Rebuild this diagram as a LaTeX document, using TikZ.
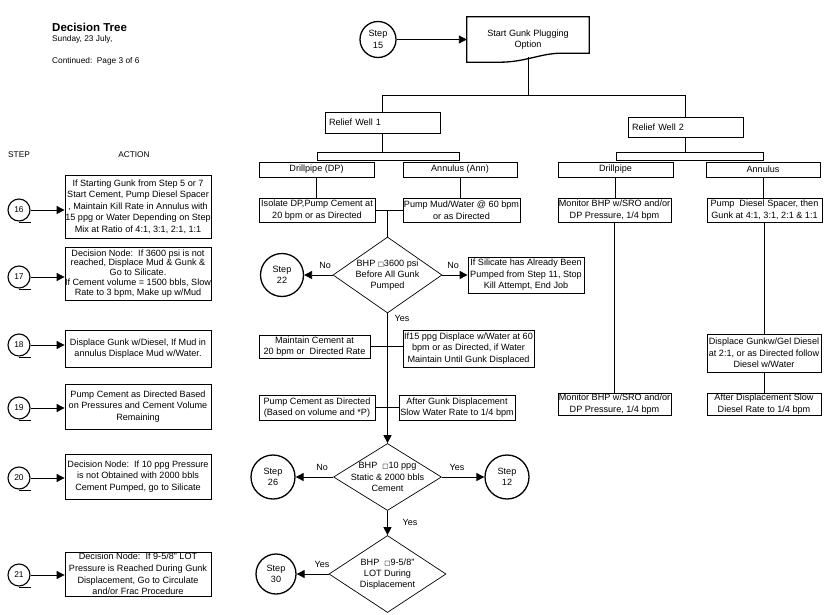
\documentclass[tikz,border=0pt]{standalone}
\usepackage{fontspec}
\setmainfont{Liberation Sans}
\newfontfamily\symfont{DejaVu Sans}
\usetikzlibrary{shapes.geometric,arrows.meta}
\newcommand\qbox{{\symfont\fontsize{6.5}{6.5}\selectfont □}}
\begin{document}
\begin{tikzpicture}[x=1pt,y=-1pt,
  every node/.style={font=\fontsize{9.1}{11.6}\selectfont},
  box/.style={draw, line width=0.8pt, rectangle, inner sep=0pt},
  btext/.style={align=center, inner sep=0pt, font=\fontsize{9.1}{11.6}\selectfont},
  bx/.style={box, label={[btext]center:{#1}}},
  lbox/.style={draw, line width=0.8pt, rectangle, inner xsep=4pt, inner ysep=1pt, align=left},
  bar/.style={draw, line width=0.8pt, rectangle, inner sep=0pt},
  stepc/.style={draw, circle, line width=1.3pt, inner sep=0pt, align=center},
  numc/.style={draw, circle, line width=1.1pt, inner sep=0pt, minimum size=22pt, font=\fontsize{8.4}{9}\selectfont},
  dia/.style={draw, diamond, line width=0.7pt, inner sep=0pt},
  dtext/.style={align=center, font=\fontsize{9.1}{11.2}\selectfont},
  conn/.style={line width=0.9pt},
  arr/.style={conn, -{Triangle[length=8pt,width=8pt]}},
  lab/.style={font=\fontsize{9}{10}\selectfont},
  small/.style={font=\fontsize{8.3}{10}\selectfont}
]
\useasboundingbox (0,0) rectangle (824,615);

% header
\node[anchor=west, font=\bfseries\fontsize{11.5}{13}\selectfont, inner sep=0pt] (title) at (52,27) {Decision Tree};
\node[anchor=west, small, inner sep=0pt] (date) at (52,39.5) {Sunday, 23 July,};
\node[anchor=west, small, inner sep=0pt] (cont) at (52,61.5) {Continued:\ \ Page 3 of 6};

% start
\node[stepc, minimum size=36pt] (s15) at (378,39.5) {Step\\15};
\node[inner sep=0pt, minimum width=122pt, minimum height=45pt, align=center] (start) at (528,39.5) {Start Gunk Plugging\\Option};
\draw[line width=1.3pt] (start.north west) -- (start.north east) -- ([yshift=9pt]start.south east)
  -- ++(-28pt,0) .. controls +(-20pt,0) and +(25pt,0) .. ([xshift=33pt]start.south west)
  -- (start.south west) -- cycle;
\coordinate (startB) at (528,57.5);
\coordinate (hy) at (0,95);
\draw[arr] (s15) -- (start.west);

% relief wells
\node[lbox, text width=107pt, minimum height=21pt] (rw1) at (382.5,122.5) {Relief Well 1};
\node[lbox, text width=107pt, minimum height=20pt] (rw2) at (685.5,127) {Relief Well 2};
\draw[conn] (startB) -- (startB |- hy);
\draw[conn] (rw1.north) -- (rw1.north |- hy) -- (rw2.north |- hy) -- (rw2.north);

\node[bar, minimum width=142pt, minimum height=8pt] (bar1) at (388,156) {};
\node[bar, minimum width=147pt, minimum height=8pt] (bar2) at (689.5,156) {};
\draw[conn] (rw1.south) -- (rw1.south |- bar1.north);
\draw[conn] (rw2.south) -- (rw2.south |- bar2.north);

\node[bx={Drillpipe (DP)}, minimum width=115pt, minimum height=15pt] (dp1) at (316.5,169.5) {};
\node[bx={Annulus (Ann)}, minimum width=114pt, minimum height=15pt] (ann1) at (460,169.5) {};
\node[bx={Drillpipe}, minimum width=115pt, minimum height=15pt] (dp2) at (615.5,169.5) {};
\node[bx={Annulus}, minimum width=114pt, minimum height=15pt] (ann2) at (763,169.5) {};

% relief well 1 column
\node[bx={Isolate DP,Pump Cement at\\20 bpm or as Directed}, minimum width=116pt, minimum height=24pt] (iso) at (317,210) {};
\node[bx={Pump Mud/Water @ 60 bpm\\or as Directed}, minimum width=117pt, minimum height=24pt] (pmw) at (461.5,210) {};
\draw[conn] (dp1.south) -- (dp1.south |- iso.north);
\draw[conn] (ann1.south) -- (ann1.south |- pmw.north);
\draw[conn] (iso.east) -- (pmw.west);

\node[dia, minimum width=109pt, minimum height=76pt,
  label={[dtext]center:{BHP \qbox3600 psi\\Before All Gunk\\Pumped}}] (d1) at (387.5,275) {};
\coordinate (j1) at (iso.east -| d1.north);
\draw[conn] (j1) -- (d1.north);

\node[stepc, minimum size=43pt] (s22) at (282,275) {Step\\22};
\node[bx={If Silicate has Already Been\\Pumped from Step 11, Stop\\Kill Attempt, End Job}, minimum width=116pt, minimum height=36pt] (sil) at (526,275) {};
\draw[arr] (d1.west) -- (s22.east);
\draw[arr] (d1.east) -- (sil.west);
\node[lab] (no1) at (325,265) {No};
\node[lab] (no2) at (453,265) {No};
\node[lab] (yes1) at (402,318) {Yes};

\node[bx={Maintain Cement at\\20 bpm or\ \ Directed Rate}, minimum width=111pt, minimum height=23pt] (mc) at (314.5,346.5) {};
\node[bx={If15 ppg Displace w/Water at 60\\bpm or as Directed, if Water\\Maintain Until Gunk Displaced}, minimum width=131pt, minimum height=37pt] (if15) at (468.5,348.5) {};
\draw[conn] (mc.east) -- (mc.east -| if15.west);

\node[bx={Pump Cement as Directed\\(Based on volume and *P)}, minimum width=116pt, minimum height=25pt] (pc) at (317,407.5) {};
\node[bx={After Gunk Displacement\\Slow Water Rate to 1/4 bpm}, minimum width=116pt, minimum height=25pt] (agd) at (457,407.5) {};
\draw[conn] (pc.east) -- (agd.west);

\node[dia, minimum width=108pt, minimum height=67pt,
  label={[dtext]center:{BHP \ \qbox10 ppg\\Static \& 2000 bbls\\Cement}}] (d2) at (387.5,477) {};
\draw[arr] (d1.south) -- (d2.north);
\node[stepc, minimum size=44pt] (s26) at (273,477) {Step\\26};
\node[stepc, minimum size=44pt] (s12) at (507,477) {Step\\12};
\draw[arr] (d2.west) -- (s26.east);
\draw[arr] (d2.east) -- (s12.west);
\node[lab] (no3) at (322,467) {No};
\node[lab] (yes2) at (457,467) {Yes};

\node[dia, minimum width=117pt, minimum height=77pt,
  label={[dtext]center:{BHP \ \qbox9-5/8"\\LOT During\\Displacement}}] (d3) at (387.5,574) {};
\draw[arr] (d2.south) -- (d3.north);
\node[lab] (yes3) at (410,522) {Yes};
\node[stepc, minimum size=40pt] (s30) at (276,574) {Step\\30};
\draw[arr] (d3.west) -- (s30.east);
\node[lab] (yes4) at (322,564) {Yes};

% relief well 2 column
\node[bx={Monitor BHP w/SRO and/or\\DP Pressure, 1/4 bpm}, minimum width=113pt, minimum height=24pt] (mon1) at (614.5,210) {};
\node[bx={Pump\ \ Diesel Spacer, then\\Gunk at 4:1, 3:1, 2:1 \& 1:1}, minimum width=115pt, minimum height=24pt] (pds) at (764.5,210) {};
\node[bx={Monitor BHP w/SRO and/or\\DP Pressure, 1/4 bpm}, minimum width=113pt, minimum height=22pt] (mon2) at (614.5,404) {};
\node[bx={Displace Gunkw/Gel Diesel\\at 2:1, or as Directed follow\\Diesel w/Water}, minimum width=114pt, minimum height=38pt] (dgg) at (764,353) {};
\node[bx={After Displacement Slow\\Diesel Rate to 1/4 bpm}, minimum width=114pt, minimum height=22pt] (ads) at (764,404) {};
\draw[conn] (dp2.south) -- (dp2.south |- mon1.north);
\draw[conn] (mon1.south) -- (mon2.north);
\draw[conn] (ann2.south) -- (ann2.south |- pds.north);
\draw[conn] (pds.south -| dgg.north) -- (dgg.north);
\draw[conn] (dgg.south) -- (ads.north);

% left column
\node[small] (stephd) at (19,155) {STEP};
\node[small] (acthd) at (134,155) {ACTION};

\node[bx={If Starting Gunk from Step 5 or 7\\Start Cement, Pump Diesel Spacer\\, Maintain Kill Rate in Annulus with\\15 ppg or Water Depending on Step\\Mix at Ratio of 4:1, 3:1, 2:1, 1:1}, minimum width=146pt, minimum height=63pt] (a16) at (138,206.5) {};
\node[box, minimum width=146pt, minimum height=53pt,
  label={[btext, font=\fontsize{9.1}{9.9}\selectfont]center:{Decision Node:\ \ If 3600 psi is not\\reached, Displace Mud \& Gunk \&\\Go to Silicate.\\If Cement volume = 1500 bbls, Slow\\Rate to 3 bpm, Make up w/Mud}}] (a17) at (138,273.5) {};
\node[bx={Displace Gunk w/Diesel, If Mud in\\annulus Displace Mud w/Water.}, minimum width=146pt, minimum height=37pt] (a18) at (138,348.5) {};
\node[bx={Pump Cement as Directed Based\\on Pressures and Cement Volume\\Remaining}, minimum width=146pt, minimum height=45pt] (a19) at (138,406.5) {};
\node[bx={Decision Node:\ \ If 10 ppg Pressure\\is not Obtained with 2000 bbls\\Cement Pumped, go to Silicate}, minimum width=146pt, minimum height=45pt] (a20) at (138,476.5) {};
\node[bx={Decision Node:\ \ If 9-5/8" LOT\\Pressure is Reached During Gunk\\Displacement, Go to Circulate\\and/or Frac Procedure}, minimum width=146pt, minimum height=44pt] (a21) at (138,574) {};

\foreach \n/\yy in {16/210,17/277,18/345,19/408,20/478,21/575}{
  \node[numc] (c\n) at (19,\yy) {\n};
  \draw[line width=1.1pt] ([yshift=-1pt]c\n.south) -- ++(12pt,0);
  \draw[arr] (c\n.east) -- (c\n.east -| a\n.west);
}
\end{tikzpicture}
\end{document}
